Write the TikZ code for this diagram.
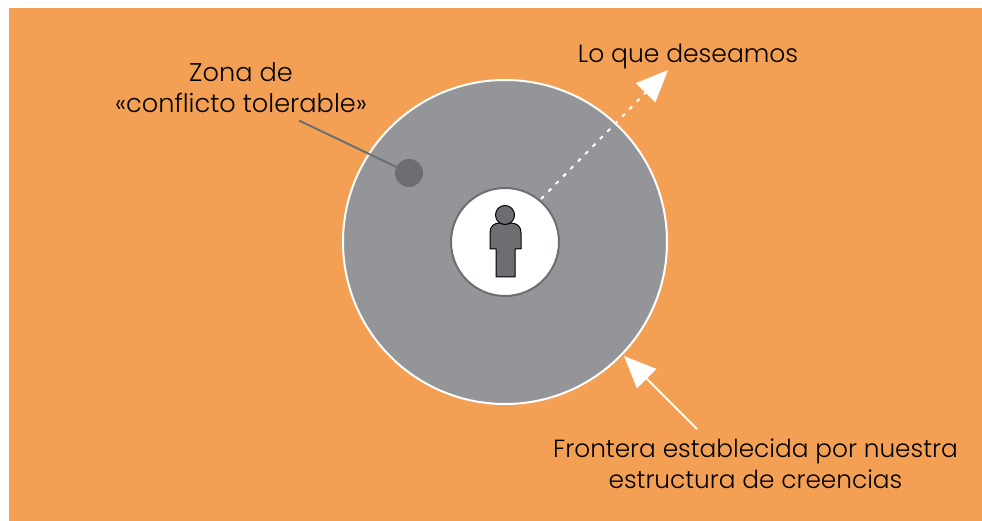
\documentclass[tikz,border=0pt]{standalone}
\usepackage{fontspec}
\setmainfont{Poppins}[UprightFont=* Light]
\usetikzlibrary{arrows.meta}
\definecolor{bgor}{HTML}{F3A054}
\definecolor{disc}{HTML}{939598}
\definecolor{darkg}{HTML}{6D6E71}
\tikzset{
  x=1pt,y=-1pt,
  lbl/.style={inner sep=0pt,align=center,text=black,font=\fontsize{25}{31}\selectfont},
  bigtip/.style={-{Triangle[length=32pt,width=27pt,fill=white]},draw=white},
  person/.style={fill=darkg,draw=black,line width=1pt,line join=round},
}
\begin{document}
\begin{tikzpicture}
\useasboundingbox (0,0) rectangle (982,521);
\fill[bgor] (9,8) rectangle (982,521);
\node[circle,fill=disc,draw=white,line width=2pt,minimum size=324pt,inner sep=0pt] (outer) at (505,242) {};
\node[circle,fill=white,draw=darkg,line width=2pt,minimum size=108pt,inner sep=0pt] (inner) at (505,242) {};
\node[circle,fill=darkg,minimum size=28pt,inner sep=0pt] (dot) at (409,173) {};
% person
\draw[person] (496,277) -- (496,249) -- (490,249) -- (490,233)
  .. controls (490,226) and (494,223) .. (500,223) -- (510,223)
  .. controls (517,223) and (521,226) .. (521,233) -- (521,249) -- (515,249) -- (515,277) -- cycle;
\node[circle,person,minimum size=19pt,inner sep=0pt] (head) at (505,215) {};
% labels
\node[lbl,font=\fontsize{25.6}{31}\selectfont] (zona) at (241,88) {Zona de\\«conflicto tolerable»};
\node[lbl] (deseo) at (688,56.5) {Lo que deseamos};
\node[lbl,font=\fontsize{24.8}{31}\selectfont] (front) at (755.5,464) {Frontera establecida por nuestra\\estructura de creencias};
% connectors
\coordinate (leadstart) at (299,120.5);
\draw[darkg,line width=2pt] (leadstart) -- (dot);
\coordinate (tipA) at (668,70);
\coordinate (startA) at (541,199);
\draw[bigtip,line width=2pt,dash pattern=on 4pt off 6.5pt] (startA) -- (tipA);
\coordinate (tipB) at (624,356);
\coordinate (startB) at (697,429);
\draw[bigtip,line width=2pt] (startB) -- (tipB);
\end{tikzpicture}
\end{document}
